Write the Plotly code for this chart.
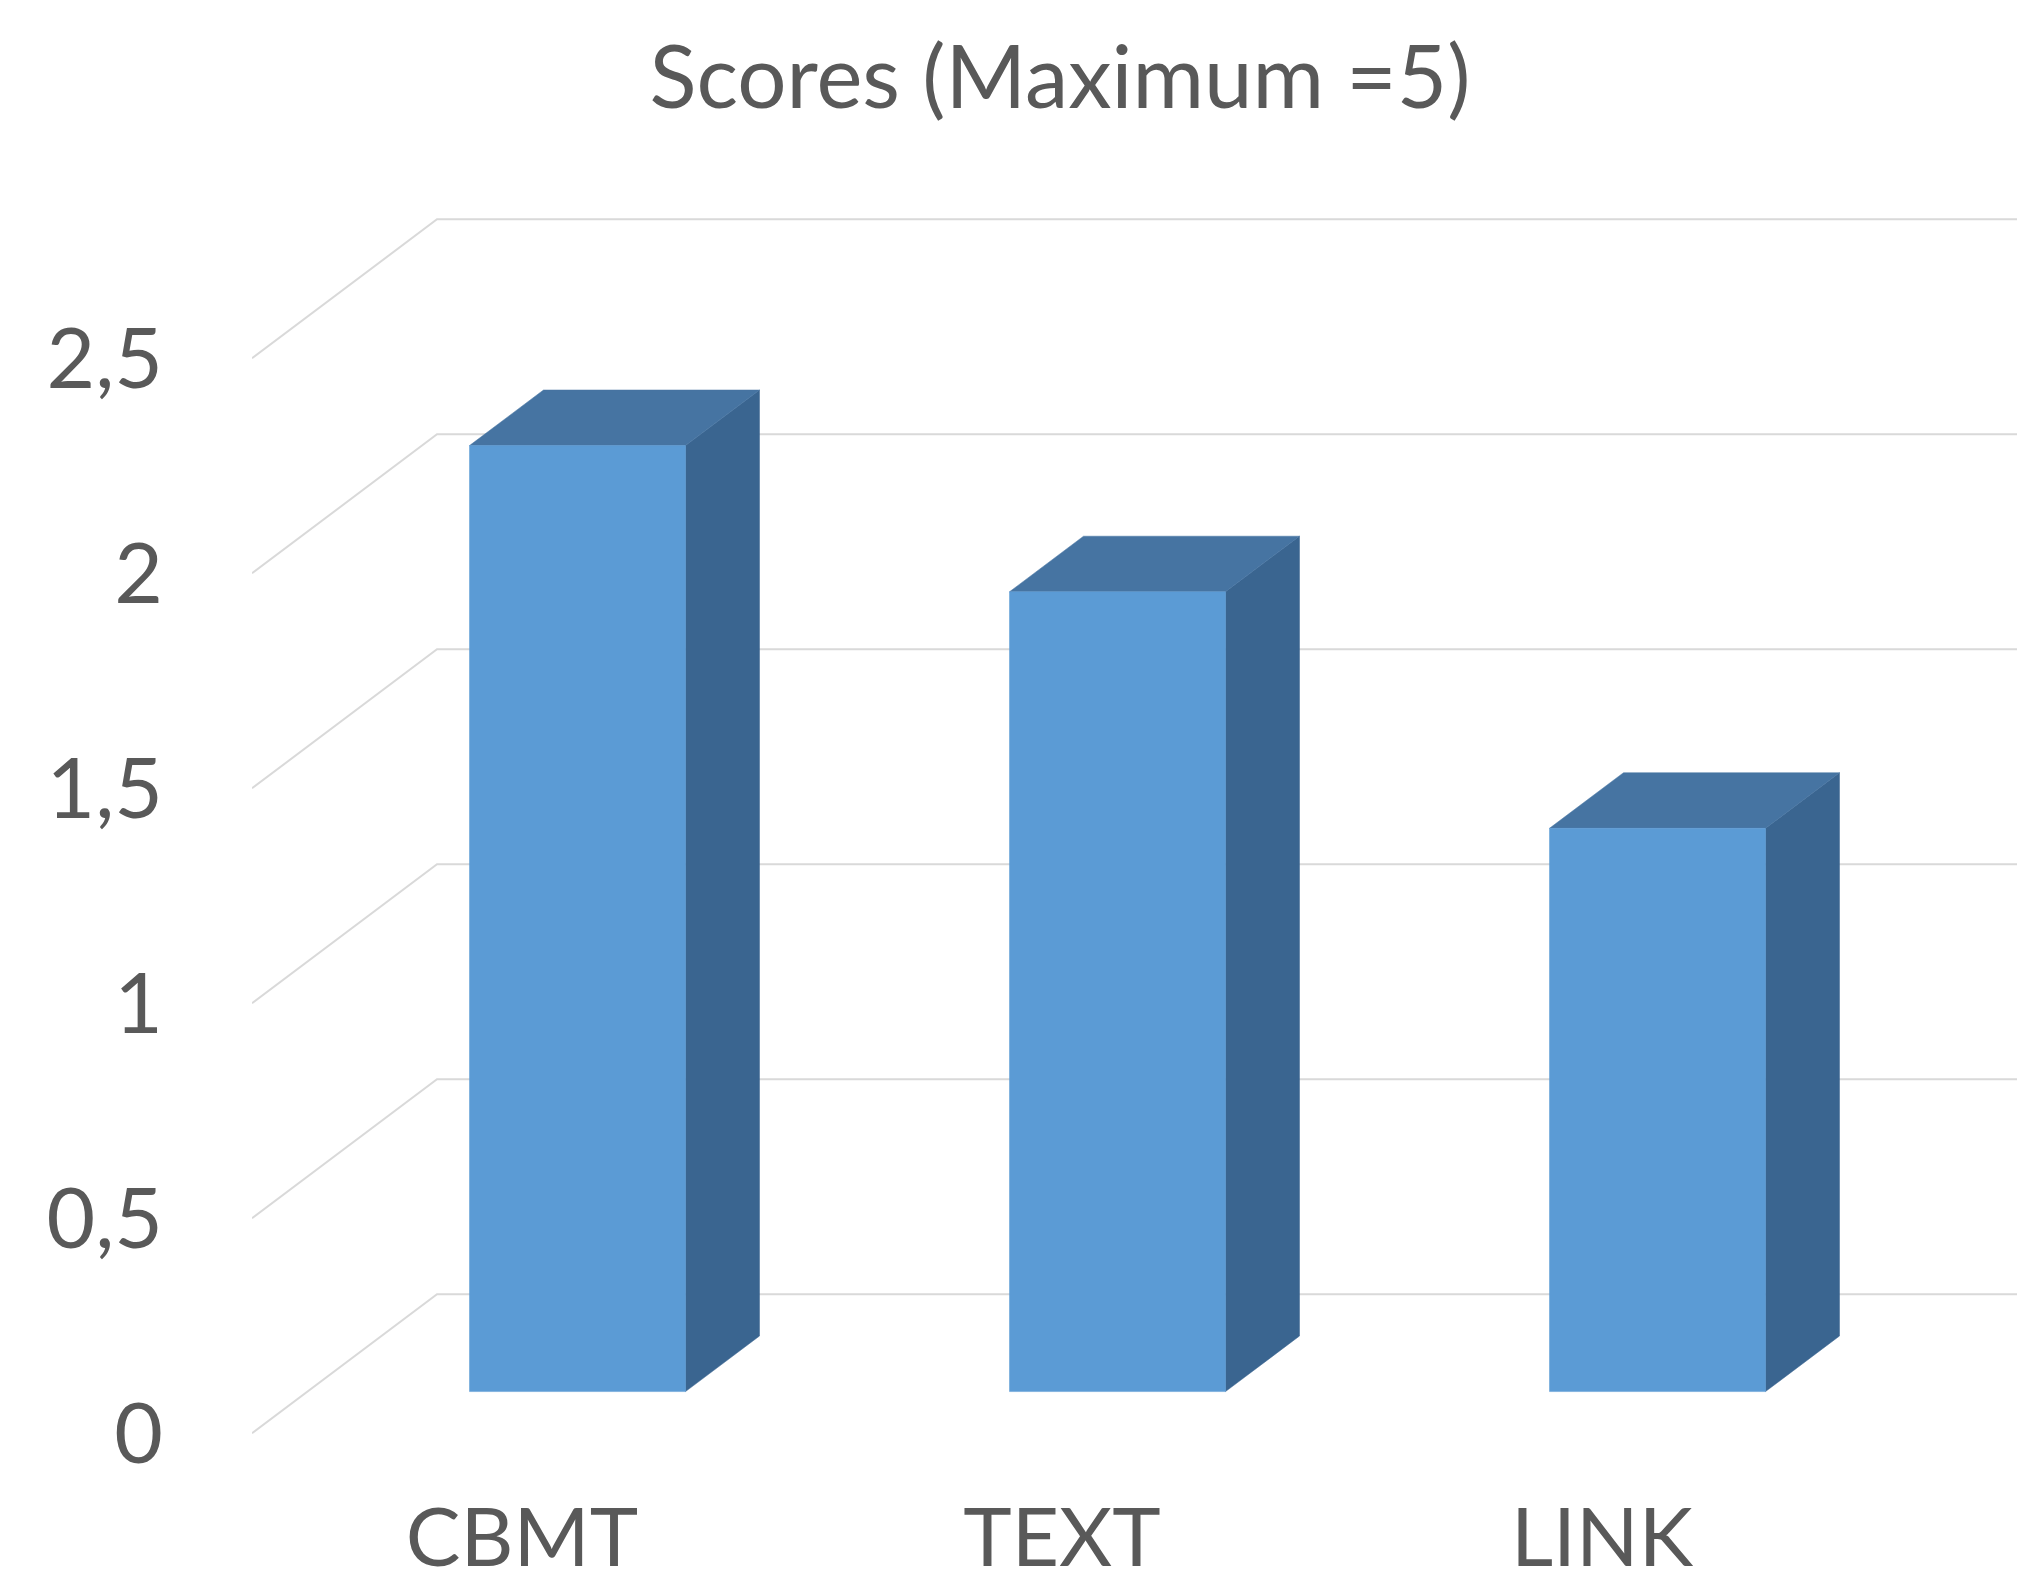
import plotly.graph_objects as go

# ---- data ----
categories = ["CBMT", "TEXT", "LINK"]
scores = [2.2, 1.86, 1.31]
y_ticks = [0, 0.5, 1, 1.5, 2, 2.5]
y_tick_labels = ["0", "0,5", "1", "1,5", "2", "2,5"]
title_text = "Scores (Maximum =5)"

# ---- oblique 3D projection settings (style) ----
DX = 0.3426   # depth shift in category units
DY = 0.3233   # depth shift in value units
D0, D1 = 0.3, 0.7   # bar depth span
HALF = 0.2          # half bar width (category units)

FRONT = "#5B9BD5"
TOP = "#4674A2"
SIDE = "#3A6590"
GRID = "#D9D9D9"
TEXT = "#595959"
FONT = "Lato"


def proj(c, v, d):
    return c + d * DX, v + d * DY


fig = go.Figure()

# gridlines: left side wall diagonal + back wall horizontal
gx, gy = [], []
for v in y_ticks:
    for c, d in [(0, 0), (0, 1), (len(categories) + 0.5, 1)]:
        x, y = proj(c, v, d)
        gx.append(x)
        gy.append(y)
    gx.append(None)
    gy.append(None)
fig.add_trace(go.Scatter(x=gx, y=gy, mode="lines",
                         line=dict(color=GRID, width=2),
                         hoverinfo="skip", showlegend=False))


def face(points, color):
    xs, ys = [], []
    for c, v, d in points:
        x, y = proj(c, v, d)
        xs.append(x)
        ys.append(y)
    xs.append(xs[0])
    ys.append(ys[0])
    fig.add_trace(go.Scatter(x=xs, y=ys, mode="lines", fill="toself",
                             fillcolor=color,
                             line=dict(color=color, width=0.5),
                             hoverinfo="skip", showlegend=False))


for i, v in enumerate(scores):
    c0, c1 = i + 0.5 - HALF, i + 0.5 + HALF
    # right side
    face([(c1, 0, D0), (c1, 0, D1), (c1, v, D1), (c1, v, D0)], SIDE)
    # top
    face([(c0, v, D0), (c1, v, D0), (c1, v, D1), (c0, v, D1)], TOP)
    # front
    face([(c0, 0, D0), (c1, 0, D0), (c1, v, D0), (c0, v, D0)], FRONT)

W, H = 2017, 1586
ML, MB = 252, 140
UNIT_X = 540.0
UNIT_Y = 430.0
ZERO_Y = 1433.3
plot_bottom = H - MB

fig.update_layout(
    width=W, height=H,
    margin=dict(l=ML, r=0, t=0, b=MB, pad=0),
    template="none",
    paper_bgcolor="white",
    plot_bgcolor="white",
    showlegend=False,
    title=dict(text=title_text, x=1060 / W, xanchor="center",
               y=1 - 78 / H, yanchor="middle",
               font=dict(family=FONT, size=87, color=TEXT)),
    xaxis=dict(range=[0, (W - ML) / UNIT_X],
               tickmode="array",
               tickvals=[i + 0.5 for i in range(len(categories))],
               ticktext=categories,
               showgrid=False, zeroline=False, showline=False, ticks="",
               automargin=False, fixedrange=True,
               ticklabelstandoff=37,
               tickfont=dict(family=FONT, size=82, color=TEXT)),
    yaxis=dict(range=[(ZERO_Y - plot_bottom) / UNIT_Y, ZERO_Y / UNIT_Y],
               tickmode="array",
               tickvals=y_ticks,
               ticktext=y_tick_labels,
               showgrid=False, zeroline=False, showline=False, ticks="",
               automargin=False, fixedrange=True,
               ticklabelstandoff=88,
               tickfont=dict(family=FONT, size=84, color=TEXT)),
)

fig.write_html("out.html")
